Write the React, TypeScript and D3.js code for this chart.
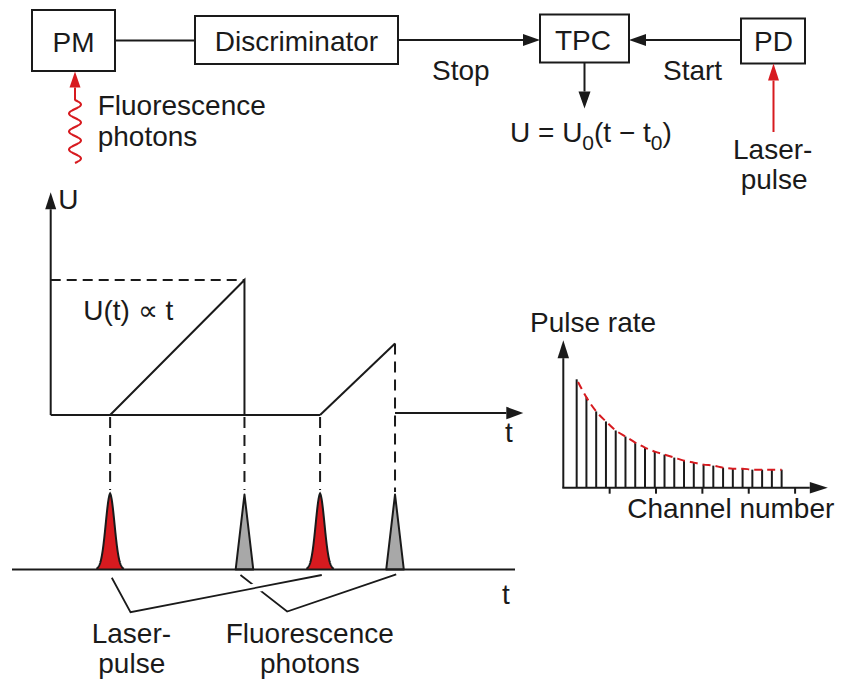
// Externals
import * as d3 from 'd3'
import { FC } from 'react'



const FONT = '"Liberation Sans", Arial, Helvetica, sans-serif'
const INK = '#1a1a1a'
const RED = '#d71a1f'
const GREY = '#a8a8a8'
const FS = 28

// Time line (arbitrary units): laser pulses start the ramp, photons stop it
const LASER_TIMES = [4.4, 19.95]
const PHOTON_TIMES = [14.35, 25.5]
// Ramp voltage reached when the stop photon arrives
const RAMP_PEAKS = [10, 5.3]
const T_MAX = 35
const U_MAX = 16.5

// Pulse-rate histogram
const CHANNEL_COUNTS = [108, 90, 76, 66, 57, 51, 45, 40, 36, 33, 30, 27, 25, 23, 22, 20, 19, 19, 18, 18, 18, 18]
const CHANNEL_OFFSET = 1.37
const CHANNEL_TICKS = [4.75, 9.5, 14.25, 19, 23.75]
const CHANNEL_MAX = 27.1
const COUNT_MAX = 147



const tScale = d3.scaleLinear().domain([0, T_MAX]).range([50.7, 523.3])
const uScale = d3.scaleLinear().domain([0, 10]).range([415, 280])
const chScale = d3.scaleLinear().domain([0, CHANNEL_MAX]).range([563.3, 563.3 + CHANNEL_MAX * 9.76])
const countScale = d3.scaleLinear().domain([0, 108]).range([487.7, 379.3])

const LANE_Y = 569.5
const PULSE_H = 76


type ArrowProps = {
  x1: number; y1: number; x2: number; y2: number
  color?: string; len?: number; w?: number; sw?: number
}

const Arrow: FC<ArrowProps> = ({ x1, y1, x2, y2, color = INK, len = 17, w = 12, sw = 2 }) => {
  const a = Math.atan2(y2 - y1, x2 - x1)
  const bx = x2 - len * Math.cos(a)
  const by = y2 - len * Math.sin(a)
  const nx = (-Math.sin(a) * w) / 2
  const ny = (Math.cos(a) * w) / 2
  return (
    <g>
      <line x1={ x1 } y1={ y1 } x2={ bx } y2={ by } stroke={ color } strokeWidth={ sw } />
      <polygon points={ `${x2},${y2} ${bx + nx},${by + ny} ${bx - nx},${by - ny}` } fill={ color } />
    </g>
  )
}

type BoxProps = { x0: number; y0: number; x1: number; y1: number; label: string; baseline: number; cx?: number }

const Box: FC<BoxProps> = ({ x0, y0, x1, y1, label, baseline, cx }) => (
  <g>
    <rect x={ x0 } y={ y0 } width={ x1 - x0 } height={ y1 - y0 } fill='white' stroke={ INK } strokeWidth={ 2 } />
    <text x={ cx ?? (x0 + x1) / 2 } y={ baseline } textAnchor='middle' fontSize={ FS }>{ label }</text>
  </g>
)


// Shape of a laser pulse (glyph only)
const pulseProfile = (dx: number) =>
  0.93 * Math.exp(-(dx * dx) / (2 * 4.5 * 4.5)) + 0.07 * Math.exp(-Math.abs(dx) / 4)

const LaserPulse: FC<{ x: number }> = ({ x }) => {
  const xs = d3.range(-17.5, 17.51, 0.25)
  const area = d3.area<number>()
    .x((d) => x + d)
    .y0(LANE_Y)
    .y1((d) => LANE_Y - PULSE_H * pulseProfile(d))
  const line = d3.line<number>()
    .x((d) => x + d)
    .y((d) => LANE_Y - PULSE_H * pulseProfile(d))
  return (
    <g>
      <path d={ area(xs) as string } fill={ RED } />
      <path d={ line(xs.filter((d) => Math.abs(d) < 14)) as string } fill='none' stroke={ INK } strokeWidth={ 2 } />
    </g>
  )
}

const PhotonPulse: FC<{ x: number }> = ({ x }) => (
  <polygon
    points={ `${x - 8.8},${LANE_Y} ${x},${LANE_Y - PULSE_H + 1} ${x + 8.8},${LANE_Y}` }
    fill={ GREY }
    stroke={ INK }
    strokeWidth={ 2 }
    strokeLinejoin='round'
  />
)


const App: FC = () => {
  // wavy fluorescence photon path (glyph)
  const waveYs = d3.range(100, 163.01, 0.5)
  const wave = d3.line<number>()
    .x((y) => 75 + 6 * Math.sin((2 * Math.PI * (y - 100)) / 18))
    .y((y) => y)(waveYs) as string

  const base = uScale(0)
  const ramps = LASER_TIMES.map((t0, i) => ({
    x0: tScale(t0),
    x1: tScale(PHOTON_TIMES[i]),
    top: uScale(RAMP_PEAKS[i]),
  }))

  const bars = CHANNEL_COUNTS.map((v, i) => ({
    x: chScale(i + CHANNEL_OFFSET),
    y: countScale(v),
  }))
  const decay = d3.line<{ x: number; y: number }>()
    .x((d) => d.x)
    .y((d) => d.y)
    .curve(d3.curveMonotoneX)(bars) as string

  // bracket lines under the pulse lane
  const l1 = tScale(LASER_TIMES[0])
  const l2 = tScale(LASER_TIMES[1])
  const p1 = tScale(PHOTON_TIMES[0])
  const p2 = tScale(PHOTON_TIMES[1])
  const laserBracket: [number, number][] = [[l1 + 1.7, 577.7], [l1 + 20.4, 612.2], [l2 + 1.7, 575]]
  const photonBracket: [number, number][] = [[p1 - 4, 575], [p1 + 42.7, 611.5], [p2 + 1.2, 574.3]]
  const poly = (pts: [number, number][]) => pts.map((p) => p.join(',')).join(' ')
  const haloA = laserBracket[1]
  const haloB = laserBracket[2]
  const lerp = (f: number) => [haloA[0] + (haloB[0] - haloA[0]) * f, haloA[1] + (haloB[1] - haloA[1]) * f]
  const h0 = lerp(0.5)
  const h1 = lerp(0.8)

  return (
    <svg
      width={ 842 }
      height={ 680 }
      style={ { position: 'absolute', left: 0, top: 0, background: 'white' } }
      fontFamily={ FONT }
      fill={ INK }
    >
      {/* ---------- block diagram ---------- */}
      <line x1={ 115 } y1={ 40.5 } x2={ 195 } y2={ 40.5 } stroke={ INK } strokeWidth={ 2 } />
      <Arrow x1={ 398 } y1={ 40 } x2={ 540 } y2={ 40 } />
      <Arrow x1={ 741 } y1={ 40 } x2={ 629 } y2={ 40 } />
      <Arrow x1={ 584.5 } y1={ 62.5 } x2={ 584.5 } y2={ 108.5 } />
      <Box x0={ 32 } y0={ 10 } x1={ 115 } y1={ 71 } label='PM' baseline={ 51.5 } />
      <Box x0={ 195 } y0={ 16 } x1={ 398 } y1={ 64 } label='Discriminator' baseline={ 51 } />
      <Box x0={ 540 } y0={ 14.5 } x1={ 629 } y1={ 62.5 } label='TPC' baseline={ 49.5 } cx={ 583 } />
      <Box x0={ 741 } y0={ 18.5 } x1={ 805 } y1={ 63.5 } label='PD' baseline={ 51 } cx={ 773.5 } />

      <text x={ 432 } y={ 80 } fontSize={ FS }>Stop</text>
      <text x={ 663 } y={ 80 } fontSize={ FS }>Start</text>
      <text x={ 510 } y={ 141.5 } fontSize={ FS }>
        U = U<tspan fontSize={ 21 } dy={ 8 }>0</tspan>
        <tspan dy={ -8 }>(t − t</tspan>
        <tspan fontSize={ 21 } dy={ 8 }>0</tspan>
        <tspan dy={ -8 }>)</tspan>
      </text>

      {/* laser pulse into photodiode */}
      <Arrow x1={ 773.5 } y1={ 132 } x2={ 773.5 } y2={ 63.5 } color={ RED } len={ 17 } w={ 11 } />
      <text x={ 733 } y={ 158.5 } fontSize={ FS }>Laser-</text>
      <text x={ 740.7 } y={ 189 } fontSize={ FS }>pulse</text>

      {/* fluorescence photons into PM */}
      <path d={ wave } fill='none' stroke={ RED } strokeWidth={ 2 } />
      <Arrow x1={ 75 } y1={ 100.5 } x2={ 75 } y2={ 71.5 } color={ RED } len={ 16 } w={ 11 } />
      <text x={ 97.7 } y={ 115 } fontSize={ FS }>Fluorescence</text>
      <text x={ 97.7 } y={ 145.7 } fontSize={ FS }>photons</text>

      {/* ---------- TAC ramp ---------- */}
      <Arrow x1={ tScale(0) } y1={ base } x2={ tScale(0) } y2={ uScale(U_MAX) } len={ 17 } w={ 11 } />
      <text x={ 58.3 } y={ 209.3 } fontSize={ FS }>U</text>
      <line
        x1={ tScale(0) } y1={ ramps[0].top } x2={ ramps[0].x1 } y2={ ramps[0].top }
        stroke={ INK } strokeWidth={ 2 } strokeDasharray='10 6'
      />
      <text x={ 83.3 } y={ 320 } fontSize={ FS }>U(t) ∝ t</text>
      <line x1={ tScale(0) } y1={ base } x2={ ramps[1].x0 } y2={ base } stroke={ INK } strokeWidth={ 2 } />
      <polyline
        points={ `${ramps[0].x0},${base} ${ramps[0].x1},${ramps[0].top} ${ramps[0].x1},${base}` }
        fill='none' stroke={ INK } strokeWidth={ 2 }
      />
      <line x1={ ramps[1].x0 } y1={ base } x2={ ramps[1].x1 } y2={ ramps[1].top } stroke={ INK } strokeWidth={ 2 } />
      <Arrow x1={ ramps[1].x1 } y1={ 413 } x2={ tScale(T_MAX) } y2={ 413 } len={ 17 } w={ 12.5 } />
      <text x={ 505 } y={ 441.7 } fontSize={ FS }>t</text>

      {/* dashed drop lines to the pulses */}
      { LASER_TIMES.map((t, i) => (
        <line key={ 'dl' + i } x1={ tScale(t) } y1={ base + 2 } x2={ tScale(t) } y2={ 490 }
          stroke={ INK } strokeWidth={ 2 } strokeDasharray='11 7' />
      )) }
      <line x1={ ramps[0].x1 } y1={ base + 2 } x2={ ramps[0].x1 } y2={ 490 }
        stroke={ INK } strokeWidth={ 2 } strokeDasharray='11 7' />
      <line x1={ ramps[1].x1 } y1={ ramps[1].top } x2={ ramps[1].x1 } y2={ 492 }
        stroke={ INK } strokeWidth={ 2 } strokeDasharray='11 7' />

      {/* ---------- pulse lane ---------- */}
      { LASER_TIMES.map((t, i) => <LaserPulse key={ 'lp' + i } x={ tScale(t) } />) }
      { PHOTON_TIMES.map((t, i) => <PhotonPulse key={ 'pp' + i } x={ tScale(t) } />) }
      <line x1={ 12 } y1={ LANE_Y } x2={ 515 } y2={ LANE_Y } stroke={ INK } strokeWidth={ 2 } />
      <text x={ 502 } y={ 604 } fontSize={ FS }>t</text>

      <polyline points={ poly(photonBracket) } fill='none' stroke={ INK } strokeWidth={ 1.8 } />
      <line x1={ h0[0] } y1={ h0[1] } x2={ h1[0] } y2={ h1[1] } stroke='white' strokeWidth={ 9 } />
      <polyline points={ poly(laserBracket) } fill='none' stroke={ INK } strokeWidth={ 1.8 } />

      <text x={ 91.7 } y={ 643.3 } fontSize={ FS }>Laser-</text>
      <text x={ 98.3 } y={ 673 } fontSize={ FS }>pulse</text>
      <text x={ 225.7 } y={ 643.3 } fontSize={ FS }>Fluorescence</text>
      <text x={ 260 } y={ 673 } fontSize={ FS }>photons</text>

      {/* ---------- histogram ---------- */}
      <text x={ 530 } y={ 332 } fontSize={ FS }>Pulse rate</text>
      { bars.map((b, i) => (
        <line key={ 'b' + i } x1={ b.x } y1={ countScale(0) } x2={ b.x } y2={ b.y } stroke={ INK } strokeWidth={ 2 } />
      )) }
      <path d={ decay } fill='none' stroke={ RED } strokeWidth={ 2 } strokeDasharray='8 5' strokeDashoffset={ -3 } />
      <Arrow x1={ chScale(0) } y1={ countScale(0) } x2={ chScale(0) } y2={ countScale(COUNT_MAX) } len={ 18 } w={ 11.5 } />
      <Arrow x1={ chScale(0) - 1 } y1={ countScale(0) } x2={ chScale(CHANNEL_MAX) } y2={ countScale(0) } len={ 18 } w={ 11.5 } />
      { CHANNEL_TICKS.map((c, i) => (
        <line key={ 't' + i } x1={ chScale(c) } y1={ countScale(0) } x2={ chScale(c) } y2={ countScale(0) + 6 }
          stroke={ INK } strokeWidth={ 2 } />
      )) }
      <text x={ 627.3 } y={ 518.3 } fontSize={ FS }>Channel number</text>
    </svg>
  )
}


export default App
